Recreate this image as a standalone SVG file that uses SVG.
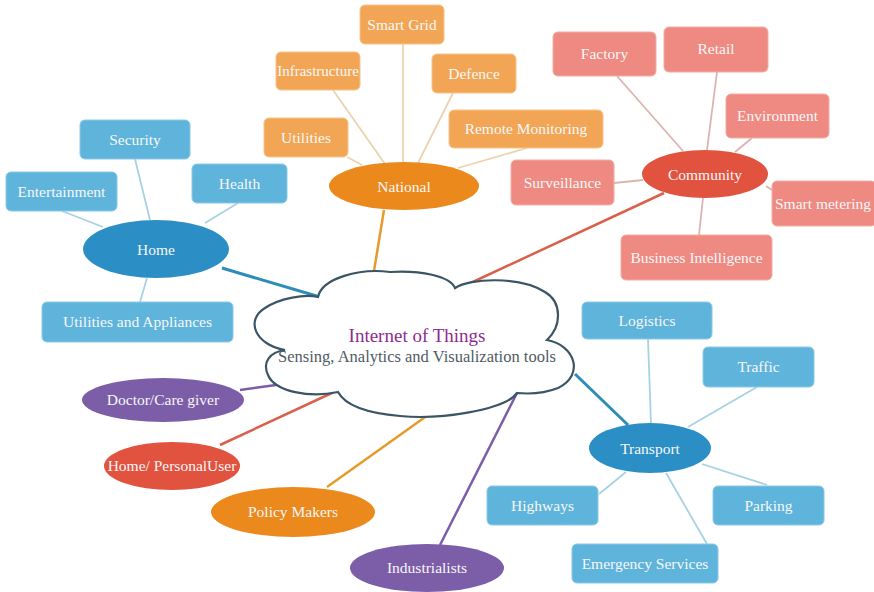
<svg xmlns="http://www.w3.org/2000/svg" width="874" height="592" viewBox="0 0 874 592">
<style>
text{font-family:"Liberation Serif","Times New Roman",serif;font-size:15.5px;fill:#f7f7f7;text-anchor:middle}
.bb{fill:#5fb4dc;stroke:#8cc9e6;stroke-width:1}
.be{fill:#2b8fc5}
.ob{fill:#f2a655;stroke:#f6c48e;stroke-width:1}
.oe{fill:#ec891d}
.pb{fill:#ee8a82;stroke:#f3aca6;stroke-width:1}
.pe{fill:#e2533f}
.ve{fill:#7c5ea8}
.lb{stroke:#a7d2e3;stroke-width:1.8;fill:none}
.lo{stroke:#ecd3b0;stroke-width:1.8;fill:none}
.lp{stroke:#ddb3b0;stroke-width:1.8;fill:none}
.mb{stroke:#2e8db8;stroke-width:3;fill:none}
.mo{stroke:#e59b2b;stroke-width:2.5;fill:none}
.mr{stroke:#d9604a;stroke-width:2.5;fill:none}
.mv{stroke:#7c5ea8;stroke-width:2.5;fill:none}
</style>
<rect width="874" height="592" fill="#ffffff"/>
<g id="connectors">
<line class="lb" x1="135" y1="159" x2="150" y2="220"/>
<line class="lb" x1="62" y1="211" x2="103" y2="227"/>
<line class="lb" x1="238" y1="203" x2="205" y2="223"/>
<line class="lb" x1="147" y1="278" x2="140" y2="302"/>
<line class="mb" x1="222" y1="268" x2="320" y2="297"/>
<line class="lo" x1="403" y1="44" x2="403" y2="162"/>
<line class="lo" x1="333" y1="90" x2="385" y2="164"/>
<line class="lo" x1="453" y1="93" x2="418" y2="163"/>
<line class="lo" x1="347" y1="157" x2="362" y2="165"/>
<line class="lo" x1="527" y1="148" x2="458" y2="168"/>
<line class="mo" x1="384" y1="210" x2="374" y2="271"/>
<line class="lp" x1="617" y1="76" x2="683" y2="151"/>
<line class="lp" x1="717" y1="72" x2="707" y2="150"/>
<line class="lp" x1="752" y1="138" x2="735" y2="152"/>
<line class="lp" x1="614" y1="183" x2="643" y2="180"/>
<line class="lp" x1="766" y1="186" x2="772" y2="190"/>
<line class="lp" x1="703" y1="198" x2="699" y2="235"/>
<line class="mr" x1="664" y1="193" x2="462" y2="287"/>
<line class="lb" x1="648" y1="339" x2="651" y2="424"/>
<line class="lb" x1="757" y1="387" x2="688" y2="427"/>
<line class="lb" x1="599" y1="494" x2="626" y2="472"/>
<line class="lb" x1="767" y1="485" x2="702" y2="464"/>
<line class="lb" x1="707" y1="544" x2="666" y2="473"/>
<line class="mb" x1="575" y1="374" x2="628" y2="425"/>
<line class="mv" x1="240" y1="390" x2="276" y2="385"/>
<line class="mr" x1="220" y1="445" x2="334" y2="392"/>
<line class="mo" x1="327" y1="487" x2="428" y2="415"/>
<line class="mv" x1="440" y1="545" x2="518" y2="391"/>
</g>
<g id="cloud">
<path d="M318 297 C322 278 360 268 390 272 C420 270 450 276 455 288 C470 278 520 276 545 292 C562 302 562 326 547 340 C575 345 585 375 558 388 C543 394 528 394 517 393 C505 410 440 420 400 416 C365 413 345 405 338 392 C310 398 275 392 268 375 C262 362 270 352 285 350 C255 345 245 320 265 308 C280 298 305 294 318 297 Z" fill="#ffffff" stroke="#3b5566" stroke-width="2.2"/>
<text x="417" y="342" style="font-size:19px;fill:#8e2b8e">Internet of Things</text>
<text x="417" y="362" style="font-size:16.5px;fill:#4f5b64">Sensing, Analytics and Visualization tools</text>
</g>
<g id="security"><rect class="bb" x="80" y="120" width="110" height="39" rx="5"/><text x="135" y="145">Security</text></g>
<g id="entertainment"><rect class="bb" x="6" y="172" width="111" height="39" rx="5"/><text x="61.5" y="197">Entertainment</text></g>
<g id="health"><rect class="bb" x="192" y="164" width="95" height="39" rx="5"/><text x="239.5" y="189">Health</text></g>
<g id="home"><ellipse class="be" cx="156" cy="249" rx="73" ry="29"/><text x="156" y="255">Home</text></g>
<g id="utilities-appliances"><rect class="bb" x="42" y="302" width="191" height="40" rx="5"/><text x="137.5" y="327">Utilities and Appliances</text></g>
<g id="smart-grid"><rect class="ob" x="360" y="5" width="84" height="39" rx="5"/><text x="402" y="30">Smart Grid</text></g>
<g id="infrastructure"><rect class="ob" x="276" y="52" width="84" height="38" rx="5"/><text x="318" y="76" style="font-size:15px">Infrastructure</text></g>
<g id="defence"><rect class="ob" x="432" y="54" width="84" height="39" rx="5"/><text x="474" y="79">Defence</text></g>
<g id="utilities"><rect class="ob" x="264" y="118" width="84" height="39" rx="5"/><text x="306" y="143">Utilities</text></g>
<g id="remote-monitoring"><rect class="ob" x="449" y="110" width="154" height="38" rx="5"/><text x="526" y="134">Remote Monitoring</text></g>
<g id="national"><ellipse class="oe" cx="404" cy="186" rx="75" ry="24"/><text x="404" y="192">National</text></g>
<g id="factory"><rect class="pb" x="553" y="32" width="103" height="44" rx="5"/><text x="604.5" y="59">Factory</text></g>
<g id="retail"><rect class="pb" x="664" y="27" width="104" height="45" rx="5"/><text x="716" y="54">Retail</text></g>
<g id="environment"><rect class="pb" x="726" y="94" width="103" height="44" rx="5"/><text x="777.5" y="121">Environment</text></g>
<g id="surveillance"><rect class="pb" x="511" y="160" width="103" height="45" rx="5"/><text x="562.5" y="188">Surveillance</text></g>
<g id="community"><ellipse class="pe" cx="705" cy="174" rx="63" ry="24"/><text x="705" y="180">Community</text></g>
<g id="smart-metering"><rect class="pb" x="772" y="181" width="104" height="45" rx="5"/><text x="823" y="209">Smart metering</text></g>
<g id="business-intelligence"><rect class="pb" x="621" y="235" width="151" height="45" rx="5"/><text x="696.5" y="263">Business Intelligence</text></g>
<g id="logistics"><rect class="bb" x="582" y="302" width="130" height="37" rx="5"/><text x="647" y="326">Logistics</text></g>
<g id="traffic"><rect class="bb" x="703" y="347" width="111" height="40" rx="5"/><text x="758.5" y="372">Traffic</text></g>
<g id="transport"><ellipse class="be" cx="650" cy="448" rx="61" ry="25"/><text x="650" y="454">Transport</text></g>
<g id="highways"><rect class="bb" x="487" y="486" width="111" height="39" rx="5"/><text x="542.5" y="511">Highways</text></g>
<g id="parking"><rect class="bb" x="713" y="486" width="111" height="39" rx="5"/><text x="768.5" y="511">Parking</text></g>
<g id="emergency-services"><rect class="bb" x="572" y="544" width="146" height="39" rx="5"/><text x="645" y="569">Emergency Services</text></g>
<g id="doctor"><ellipse class="ve" cx="163" cy="400" rx="81" ry="22"/><text x="163" y="405">Doctor/Care giver</text></g>
<g id="home-personal"><ellipse class="pe" cx="172" cy="466" rx="68" ry="24"/><text x="172" y="471">Home/ PersonalUser</text></g>
<g id="policy-makers"><ellipse class="oe" cx="293" cy="512" rx="82" ry="25"/><text x="293" y="517">Policy Makers</text></g>
<g id="industrialists"><ellipse class="ve" cx="427" cy="568" rx="77" ry="24"/><text x="427" y="573">Industrialists</text></g>
</svg>
